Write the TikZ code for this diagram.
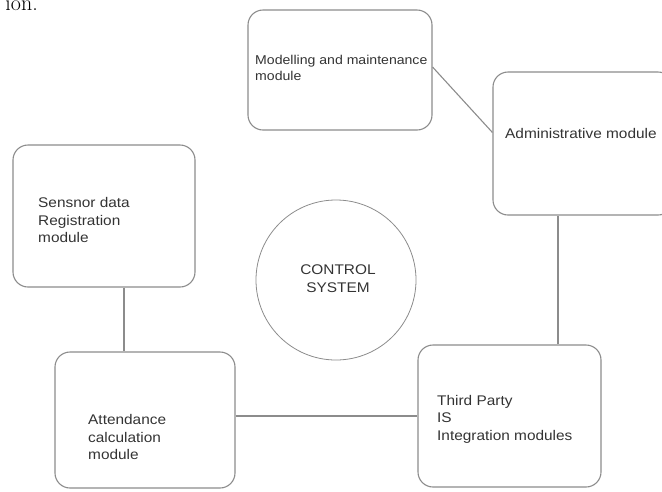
\documentclass[tikz,border=0pt]{standalone}
\usepackage{fontspec}
\setsansfont{Liberation Sans}[FakeStretch=1.1]
\usepackage{tikz}
\usetikzlibrary{positioning,calc}

\definecolor{linegray}{HTML}{8C8C8C}
\definecolor{txtgray}{HTML}{333333}

\tikzset{
	modulo/.style={draw=linegray, line width=1.1pt, rounded corners=15pt},
	conector/.style={draw=linegray, line width=1.1pt},
	texto/.style={font=\sffamily\fontsize{14}{17.5}\selectfont, text=txtgray, align=left, inner sep=0pt}
}

\begin{document}
\begin{tikzpicture}[x=1pt, y=-1pt]
	\useasboundingbox (0,0) rectangle (662,491);
	\node[font=\fontsize{22}{22}\selectfont, anchor=base east, inner sep=0pt] (corte) at (38,10) {ion.};   % resto del texto de arriba
	% Modulos
	\node[modulo, minimum width=184pt, minimum height=120pt] (model) at (340,70) {};
	\node[modulo, minimum width=180pt, minimum height=143pt] (admin) at (583,143.5) {};
	\node[modulo, minimum width=182pt, minimum height=142pt] (sensor) at (104,216) {};
	\node[modulo, minimum width=180pt, minimum height=136pt] (att) at (145,420) {};
	\node[modulo, minimum width=183pt, minimum height=142pt] (third) at (509.5,416) {};
	\node[draw=linegray, line width=0.8pt, circle, minimum size=160pt] (ctrl) at (336,280) {};
	% Textos
	\node[texto, font=\sffamily\fontsize{12.8}{16}\selectfont, anchor=west] (modeltxt) at (255,68) {Modelling and maintenance\\module};
	\node[texto, anchor=west] (admintxt) at (505,133) {Administrative module};
	\node[texto, anchor=west] (sensortxt) at (38,220) {Sensnor data\\Registration\\module};
	\node[texto, anchor=west] (atttxt) at (88,437) {Attendance\\calculation\\module};
	\node[texto, anchor=west] (thirdtxt) at (437,419) {Third Party\\IS\\Integration modules};
	\node[texto, align=center] (ctrltxt) at (338,278.5) {CONTROL\\SYSTEM};
	% Conectores
	\draw[conector] ([yshift=3pt]model.east) -- ([yshift=11pt]admin.west);
	\draw[conector] ([xshift=20pt]sensor.south) -- ([xshift=20pt]sensor.south |- att.north);
	\draw[conector] (att.east |- third.west) -- (third.west);
	\draw[conector] ([xshift=48.5pt]third.north) -- ([xshift=48.5pt]third.north |- admin.south);
\end{tikzpicture}
\end{document}
